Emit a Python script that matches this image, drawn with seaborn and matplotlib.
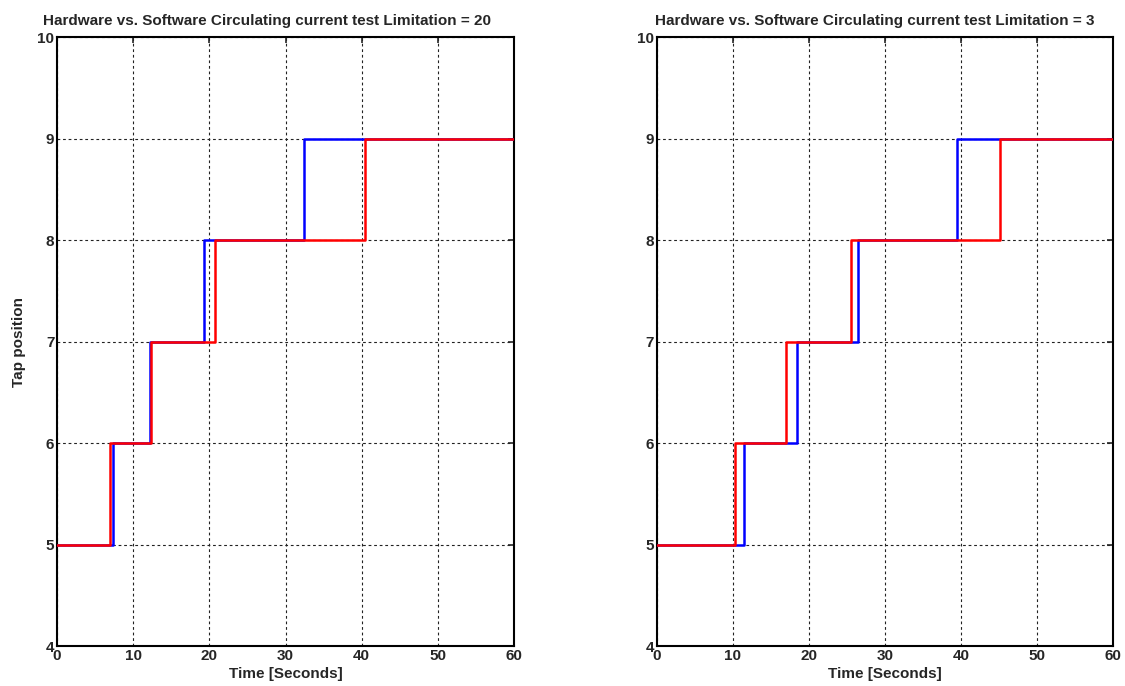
import seaborn as sns
import matplotlib.pyplot as plt
import pandas as pd

# step times [s] and tap positions
t_hw_20 = [0, 7.3, 12.25, 19.3, 32.4, 60]
t_sw_20 = [0, 6.9, 12.3, 20.8, 40.5, 60]
t_hw_3 = [0, 11.4, 18.4, 26.5, 39.5, 60]
t_sw_3 = [0, 10.3, 17.0, 25.5, 45.1, 60]
taps = [5, 6, 7, 8, 9, 9]
limits = [20, 3]

sns.set_style("white")
plt.rcParams['font.family'] = ['Liberation Sans', 'DejaVu Sans']
plt.rcParams['font.weight'] = 'bold'

fig = plt.figure(figsize=(11.25, 6.86), dpi=100)
ax1 = fig.add_axes([0.0507, 0.0583, 0.4062, 0.8877])
ax2 = fig.add_axes([0.584, 0.0583, 0.4053, 0.8877])

series = [(ax1, t_hw_20, t_sw_20, limits[0], 0.46),
          (ax2, t_hw_3, t_sw_3, limits[1], 0.478)]

for ax, t_hw, t_sw, lim, tx in series:
    df_hw = pd.DataFrame({"t": t_hw, "tap": taps})
    df_sw = pd.DataFrame({"t": t_sw, "tap": taps})
    sns.lineplot(data=df_hw, x="t", y="tap", ax=ax, color="#0000ff",
                 drawstyle="steps-post", linewidth=1.8, zorder=3)
    sns.lineplot(data=df_sw, x="t", y="tap", ax=ax, color="#ff0000",
                 drawstyle="steps-post", linewidth=1.8, zorder=4)
    ax.set_xlim(0, 60)
    ax.set_ylim(4, 10)
    ax.set_xticks(range(0, 61, 10))
    ax.set_yticks(range(4, 11))
    ax.grid(True, color="#222222", linestyle=(0, (2.5, 2.5)), linewidth=0.8)
    ax.tick_params(direction="in", top=True, right=True, length=4, width=1.2,
                   labelsize=11, pad=2)
    for lbl in ax.get_xticklabels() + ax.get_yticklabels():
        lbl.set_fontweight("bold")
    for sp in ax.spines.values():
        sp.set_color("black")
        sp.set_linewidth(1.5)
    ax.set_title(f"Hardware vs. Software Circulating current test Limitation = {lim}",
                 fontsize=11, fontweight="bold", pad=9, x=tx)
    ax.set_xlabel("Time [Seconds]", fontsize=11, fontweight="bold", labelpad=3)
    ax.set_ylabel("")

ax1.set_ylabel("Tap position", fontsize=11, fontweight="bold", labelpad=8)

plt.savefig("out.png", dpi=100)
